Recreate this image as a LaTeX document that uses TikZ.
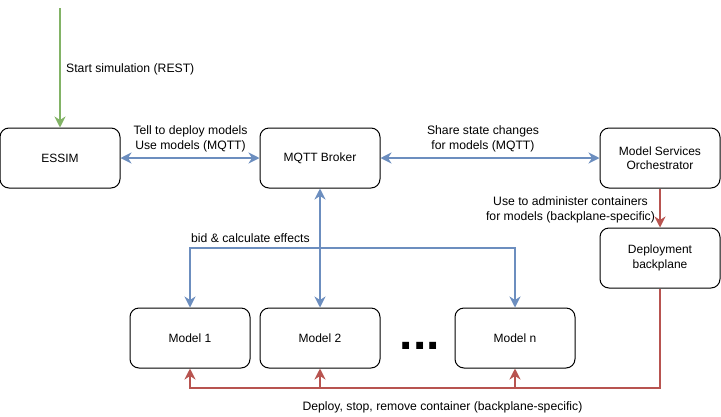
\documentclass[tikz,border=0pt]{standalone}
\usepackage{fontspec}
\setmainfont{Liberation Sans}
\usetikzlibrary{arrows.meta}
\definecolor{cblue}{HTML}{6C8EBF}
\definecolor{cgreen}{HTML}{82B366}
\definecolor{cred}{HTML}{B85450}
\tikzset{
  box/.style={draw=black, line width=1pt, rounded corners=9pt, minimum width=120pt, minimum height=60pt, align=center, inner sep=0pt, font=\fontsize{12}{14.5}\selectfont},
  lbl/.style={align=center, inner sep=0pt, font=\fontsize{12.2}{15}\selectfont},
  tip/.style={-{Stealth[length=11pt,width=11pt,inset=3.5pt]}},
  tips/.style={{Stealth[length=11pt,width=11pt,inset=3.5pt]}-{Stealth[length=11pt,width=11pt,inset=3.5pt]}},
  bl/.style={draw=cblue, line width=2pt},
  gr/.style={draw=cgreen, line width=2pt},
  rd/.style={draw=cred, line width=2pt},
}
\begin{document}
\begin{tikzpicture}[x=1pt,y=-1pt]
\useasboundingbox (0,0) rectangle (721,416);
\node[box] (essim) at (60,158) {ESSIM};
\node[box] (mqtt) at (320,158) {MQTT Broker};
\node[box] (mso) at (660,158) {Model Services\\Orchestrator};
\node[box] (dep) at (660,258) {Deployment\\backplane};
\node[box] (m1) at (190,338) {Model 1};
\node[box] (m2) at (320,338) {Model 2};
\node[box] (mn) at (515,338) {Model n};
\node[anchor=base, inner sep=0pt, font=\fontsize{48}{48}\selectfont\bfseries] (dots) at (420,349) {...};

\coordinate (start) at (60,8);
\coordinate (jb) at (320,248);
\coordinate (jr) at (660,388);

% green
\draw[gr, tip] (start) -- (essim.north);
% blue
\draw[bl, tips] (essim.east) -- (mqtt.west);
\draw[bl, tips] (mqtt.east) -- (mso.west);
\draw[bl, tips] (mqtt.south) -- (m2.north);
\draw[bl, tip] (jb) -| (m1.north);
\draw[bl, tip] (jb) -| (mn.north);
% red
\draw[rd, tip] (mso.south) -- (dep.north);
\draw[rd, tip] (dep.south) -- (jr) -| (m1.south);
\draw[rd, tip] (m2.south |- jr) -- (m2.south);
\draw[rd, tip] (mn.south |- jr) -- (mn.south);

% labels
\node[lbl, anchor=west] (l1) at (66,69) {Start simulation (REST)};
\node[lbl] (l2) at (190.5,139) {Tell to deploy models\\Use models (MQTT)};
\node[lbl] (l3) at (483,139) {Share state changes\\for models (MQTT)};
\node[lbl] (l4) at (570.5,210) {Use to administer containers\\for models (backplane-specific)};
\node[lbl, anchor=west] (l5) at (191,238.5) {bid \& calculate effects};
\node[lbl] (l6) at (442.5,407) {Deploy, stop, remove container (backplane-specific)};
\end{tikzpicture}
\end{document}
